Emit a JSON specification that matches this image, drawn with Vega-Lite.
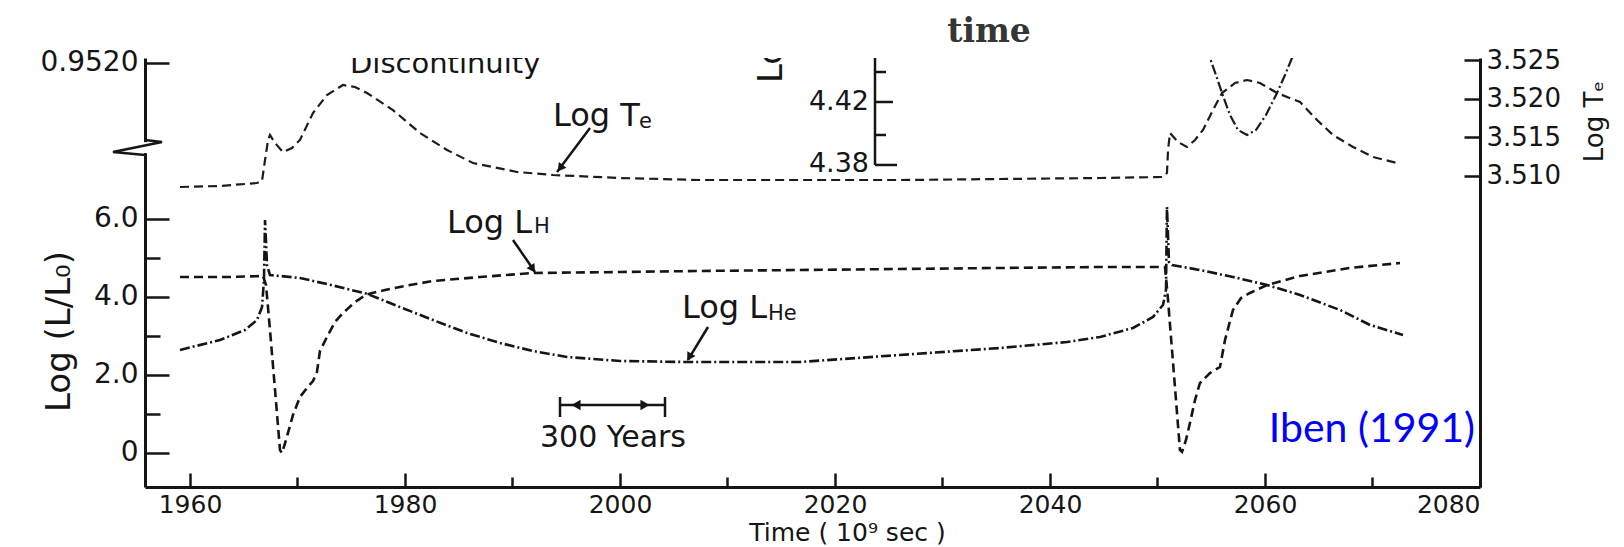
{
  "$schema": "https://vega.github.io/schema/vega-lite/v6.json",
  "autosize": "none",
  "width": 1335,
  "height": 429,
  "padding": {"left": 145, "top": 58, "right": 144, "bottom": 60},
  "background": "white",
  "config": {"view": {"stroke": null}, "font": "DejaVu Sans"},
  "datasets": {
    "lum": [
      {"series": "LH", "t": 1959.07, "L": 4.513},
      {"series": "LH", "t": 1963.72, "L": 4.513},
      {"series": "LH", "t": 1966.79, "L": 4.538},
      {"series": "LH", "t": 1967.07, "L": 4.308},
      {"series": "LH", "t": 1967.44, "L": 3.154},
      {"series": "LH", "t": 1967.91, "L": 1.615},
      {"series": "LH", "t": 1968.37, "L": 0.077},
      {"series": "LH", "t": 1968.56, "L": 0.0},
      {"series": "LH", "t": 1968.93, "L": 0.333},
      {"series": "LH", "t": 1969.58, "L": 0.974},
      {"series": "LH", "t": 1970.23, "L": 1.436},
      {"series": "LH", "t": 1970.88, "L": 1.667},
      {"series": "LH", "t": 1971.44, "L": 1.846},
      {"series": "LH", "t": 1971.81, "L": 2.077},
      {"series": "LH", "t": 1972.09, "L": 2.615},
      {"series": "LH", "t": 1972.74, "L": 2.974},
      {"series": "LH", "t": 1973.49, "L": 3.359},
      {"series": "LH", "t": 1974.23, "L": 3.59},
      {"series": "LH", "t": 1975.35, "L": 3.872},
      {"series": "LH", "t": 1976.47, "L": 4.07},
      {"series": "LH", "t": 1978.14, "L": 4.179},
      {"series": "LH", "t": 1980.47, "L": 4.308},
      {"series": "LH", "t": 1982.6, "L": 4.41},
      {"series": "LH", "t": 1986.98, "L": 4.513},
      {"series": "LH", "t": 1991.91, "L": 4.615},
      {"series": "LH", "t": 2000.0, "L": 4.641},
      {"series": "LH", "t": 2007.44, "L": 4.667},
      {"series": "LH", "t": 2016.74, "L": 4.692},
      {"series": "LH", "t": 2026.05, "L": 4.718},
      {"series": "LH", "t": 2035.35, "L": 4.744},
      {"series": "LH", "t": 2044.65, "L": 4.769},
      {"series": "LH", "t": 2050.7, "L": 4.769},
      {"series": "LH", "t": 2050.98, "L": 3.923},
      {"series": "LH", "t": 2051.35, "L": 2.641},
      {"series": "LH", "t": 2051.72, "L": 1.359},
      {"series": "LH", "t": 2052.09, "L": 0.077},
      {"series": "LH", "t": 2052.28, "L": 0.026},
      {"series": "LH", "t": 2052.65, "L": 0.333},
      {"series": "LH", "t": 2053.02, "L": 0.769},
      {"series": "LH", "t": 2053.49, "L": 1.359},
      {"series": "LH", "t": 2053.95, "L": 1.795},
      {"series": "LH", "t": 2054.88, "L": 2.051},
      {"series": "LH", "t": 2055.81, "L": 2.205},
      {"series": "LH", "t": 2056.28, "L": 2.897},
      {"series": "LH", "t": 2057.02, "L": 3.667},
      {"series": "LH", "t": 2057.77, "L": 3.974},
      {"series": "LH", "t": 2058.6, "L": 4.103},
      {"series": "LH", "t": 2060.19, "L": 4.308},
      {"series": "LH", "t": 2063.26, "L": 4.538},
      {"series": "LH", "t": 2067.91, "L": 4.744},
      {"series": "LH", "t": 2072.56, "L": 4.872},
      {"series": "LHe", "t": 1959.07, "L": 2.641},
      {"series": "LHe", "t": 1962.79, "L": 2.897},
      {"series": "LHe", "t": 1965.12, "L": 3.154},
      {"series": "LHe", "t": 1966.23, "L": 3.41},
      {"series": "LHe", "t": 1966.7, "L": 3.744},
      {"series": "LHe", "t": 1966.88, "L": 4.436},
      {"series": "LHe", "t": 1966.98, "L": 5.974},
      {"series": "LHe", "t": 1967.16, "L": 4.821},
      {"series": "LHe", "t": 1967.44, "L": 4.564},
      {"series": "LHe", "t": 1970.23, "L": 4.487},
      {"series": "LHe", "t": 1973.12, "L": 4.308},
      {"series": "LHe", "t": 1976.47, "L": 4.08},
      {"series": "LHe", "t": 1979.53, "L": 3.744},
      {"series": "LHe", "t": 1982.6, "L": 3.41},
      {"series": "LHe", "t": 1985.77, "L": 3.077},
      {"series": "LHe", "t": 1988.84, "L": 2.821},
      {"series": "LHe", "t": 1991.91, "L": 2.615},
      {"series": "LHe", "t": 1995.07, "L": 2.462},
      {"series": "LHe", "t": 2000.0, "L": 2.359},
      {"series": "LHe", "t": 2006.23, "L": 2.333},
      {"series": "LHe", "t": 2016.74, "L": 2.333},
      {"series": "LHe", "t": 2026.05, "L": 2.513},
      {"series": "LHe", "t": 2035.35, "L": 2.692},
      {"series": "LHe", "t": 2041.58, "L": 2.846},
      {"series": "LHe", "t": 2044.65, "L": 2.974},
      {"series": "LHe", "t": 2047.72, "L": 3.205},
      {"series": "LHe", "t": 2049.58, "L": 3.487},
      {"series": "LHe", "t": 2050.51, "L": 3.795},
      {"series": "LHe", "t": 2050.79, "L": 4.179},
      {"series": "LHe", "t": 2050.88, "L": 6.308},
      {"series": "LHe", "t": 2051.07, "L": 4.897},
      {"series": "LHe", "t": 2051.35, "L": 4.821},
      {"series": "LHe", "t": 2053.95, "L": 4.692},
      {"series": "LHe", "t": 2057.02, "L": 4.513},
      {"series": "LHe", "t": 2060.19, "L": 4.308},
      {"series": "LHe", "t": 2063.26, "L": 4.051},
      {"series": "LHe", "t": 2066.98, "L": 3.667},
      {"series": "LHe", "t": 2069.77, "L": 3.282},
      {"series": "LHe", "t": 2072.84, "L": 3.026}
    ],
    "tcurves": [
      {"series": "Te", "t": 1959.07, "Te": 3.50858},
      {"series": "Te", "t": 1962.79, "Te": 3.50871},
      {"series": "Te", "t": 1966.23, "Te": 3.50909},
      {"series": "Te", "t": 1966.7, "Te": 3.50935},
      {"series": "Te", "t": 1966.98, "Te": 3.51207},
      {"series": "Te", "t": 1967.26, "Te": 3.51466},
      {"series": "Te", "t": 1967.44, "Te": 3.5153},
      {"series": "Te", "t": 1967.91, "Te": 3.51427},
      {"series": "Te", "t": 1968.65, "Te": 3.5131},
      {"series": "Te", "t": 1969.49, "Te": 3.51362},
      {"series": "Te", "t": 1970.23, "Te": 3.51466},
      {"series": "Te", "t": 1971.44, "Te": 3.51815},
      {"series": "Te", "t": 1972.74, "Te": 3.52047},
      {"series": "Te", "t": 1974.23, "Te": 3.52177},
      {"series": "Te", "t": 1975.35, "Te": 3.52151},
      {"series": "Te", "t": 1976.47, "Te": 3.52073},
      {"series": "Te", "t": 1978.88, "Te": 3.51853},
      {"series": "Te", "t": 1981.4, "Te": 3.51556},
      {"series": "Te", "t": 1983.91, "Te": 3.51336},
      {"series": "Te", "t": 1986.33, "Te": 3.51168},
      {"series": "Te", "t": 1990.42, "Te": 3.51052},
      {"series": "Te", "t": 1993.77, "Te": 3.51013},
      {"series": "Te", "t": 2000.0, "Te": 3.50974},
      {"series": "Te", "t": 2007.44, "Te": 3.50948},
      {"series": "Te", "t": 2016.74, "Te": 3.50948},
      {"series": "Te", "t": 2026.05, "Te": 3.50948},
      {"series": "Te", "t": 2035.35, "Te": 3.50961},
      {"series": "Te", "t": 2044.65, "Te": 3.50974},
      {"series": "Te", "t": 2050.51, "Te": 3.50987},
      {"series": "Te", "t": 2050.88, "Te": 3.51039},
      {"series": "Te", "t": 2050.98, "Te": 3.51336},
      {"series": "Te", "t": 2051.16, "Te": 3.51556},
      {"series": "Te", "t": 2051.91, "Te": 3.5144},
      {"series": "Te", "t": 2052.74, "Te": 3.51375},
      {"series": "Te", "t": 2053.49, "Te": 3.51466},
      {"series": "Te", "t": 2054.23, "Te": 3.51595},
      {"series": "Te", "t": 2055.07, "Te": 3.51828},
      {"series": "Te", "t": 2056.0, "Te": 3.52073},
      {"series": "Te", "t": 2057.21, "Te": 3.52203},
      {"series": "Te", "t": 2058.33, "Te": 3.52241},
      {"series": "Te", "t": 2059.53, "Te": 3.52203},
      {"series": "Te", "t": 2061.12, "Te": 3.52073},
      {"series": "Te", "t": 2063.26, "Te": 3.51957},
      {"series": "Te", "t": 2064.84, "Te": 3.51724},
      {"series": "Te", "t": 2066.33, "Te": 3.5153},
      {"series": "Te", "t": 2068.19, "Te": 3.51375},
      {"series": "Te", "t": 2070.05, "Te": 3.51246},
      {"series": "Te", "t": 2072.28, "Te": 3.51168},
      {"series": "Te2", "t": 2054.51, "Te": 3.52655},
      {"series": "Te2", "t": 2054.88, "Te": 3.52526},
      {"series": "Te2", "t": 2055.44, "Te": 3.52306},
      {"series": "Te2", "t": 2056.0, "Te": 3.52073},
      {"series": "Te2", "t": 2056.74, "Te": 3.51789},
      {"series": "Te2", "t": 2057.49, "Te": 3.51595},
      {"series": "Te2", "t": 2058.33, "Te": 3.5153},
      {"series": "Te2", "t": 2059.16, "Te": 3.51595},
      {"series": "Te2", "t": 2060.09, "Te": 3.51789},
      {"series": "Te2", "t": 2061.12, "Te": 3.52073},
      {"series": "Te2", "t": 2061.86, "Te": 3.52306},
      {"series": "Te2", "t": 2062.51, "Te": 3.52526},
      {"series": "Te2", "t": 2062.88, "Te": 3.52655}
    ],
    "segments": [
      {"kind": "arrow", "t": 1997.209, "L": 8.333, "t2": 1994.14, "L2": 7.205},
      {"kind": "arrow", "t": 1990.047, "L": 5.462, "t2": 1992.093, "L2": 4.641},
      {"kind": "arrow", "t": 2008.186, "L": 3.231, "t2": 2006.326, "L2": 2.385},
      {"kind": "bar", "t": 1994.419, "L": 1.231, "t2": 2004.186, "L2": 1.231},
      {"kind": "bar", "t": 1994.419, "L": 1.436, "t2": 1994.419, "L2": 0.923},
      {"kind": "bar", "t": 2004.186, "L": 1.436, "t2": 2004.186, "L2": 0.923},
      {"kind": "inset", "t": 2023.721, "L": 10.128, "t2": 2023.721, "L2": 7.385},
      {"kind": "inset", "t": 2023.721, "L": 9.769, "t2": 2024.744, "L2": 9.769},
      {"kind": "inset", "t": 2023.721, "L": 9.0, "t2": 2025.395, "L2": 9.0},
      {"kind": "inset", "t": 2023.721, "L": 8.154, "t2": 2024.744, "L2": 8.154},
      {"kind": "inset", "t": 2023.721, "L": 7.385, "t2": 2025.767, "L2": 7.385},
      {"kind": "cover", "t": 1955.814, "L": 7.97, "t2": 1955.814, "L2": 7.69}
    ],
    "zigzag": [
      {"i": 1, "t": 1955.814, "L": 8.026},
      {"i": 2, "t": 1957.395, "L": 7.974},
      {"i": 3, "t": 1952.837, "L": 7.718},
      {"i": 4, "t": 1955.814, "L": 7.641}
    ],
    "heads": [
      {"kind": "te", "t": 1994.512, "L": 7.333},
      {"kind": "lh", "t": 1991.814, "L": 4.744},
      {"kind": "lhe", "t": 2006.512, "L": 2.487},
      {"kind": "barL", "t": 1995.907, "L": 1.231},
      {"kind": "barR", "t": 2002.326, "L": 1.231}
    ],
    "labels": [
      {"kind": "main", "text": "Log T", "t": 1993.767, "L": 8.385},
      {"kind": "main", "text": "Log L", "t": 1983.907, "L": 5.641},
      {"kind": "main", "text": "Log L", "t": 2005.767, "L": 3.462},
      {"kind": "sub", "text": "e", "t": 2001.77, "L": 8.333},
      {"kind": "sub", "text": "H", "t": 1992.0, "L": 5.641},
      {"kind": "sub", "text": "He", "t": 2013.77, "L": 3.41},
      {"kind": "years", "text": "300 Years", "t": 1999.349, "L": 0.154},
      {"kind": "disc", "text": "Discontinuity", "t": 1974.884, "L": 9.744},
      {"kind": "time", "text": "time", "t": 2034.326, "L": 10.538},
      {"kind": "credit", "text": "Iben (1991)", "t": 2079.535, "L": 0.282},
      {"kind": "inset", "text": "4.42", "t": 2023.163, "L": 9.0},
      {"kind": "inset", "text": "4.38", "t": 2023.163, "L": 7.41},
      {"kind": "insetTitle", "text": "Log L", "t": 2015.07, "L": 9.487}
    ]
  },
  "layer": [
    {
      "layer": [
        {
          "data": {"name": "lum"},
          "mark": {"type": "line", "strokeWidth": 2.6, "color": "#151515"},
          "encoding": {
            "x": {"field": "t", "type": "quantitative",
              "scale": {"domain": [1955.814, 2080], "nice": false, "zero": false},
              "axis": {
                "values": [1960, 1970, 1980, 1990, 2000, 2010, 2020, 2030, 2040, 2050, 2060, 2070, 2080],
                "format": "d",
                "labelExpr": "datum.value % 20 == 0 ? datum.label : ''",
                "tickSize": {"condition": {"test": "datum.value % 20 != 0", "value": -10}, "value": -14},
                "tickWidth": 2.5, "tickColor": "#151515",
                "labelPadding": 19, "labelFont": "DejaVu Sans", "labelFontSize": 25, "labelColor": "#151515",
                "domainColor": "#151515", "domainWidth": 3, "grid": false,
                "title": "Time   ( 10⁹ sec  )", "titleFont": "DejaVu Sans", "titleFontSize": 25, "titleFontWeight": "normal",
                "titleColor": "#151515", "titleX": 702, "titleY": 53, "titleAlign": "center", "titleBaseline": "alphabetic"
              }},
            "y": {"field": "L", "type": "quantitative",
              "scale": {"domain": [-0.872, 10.128], "nice": false, "zero": false},
              "axis": {
                "orient": "left",
                "values": [0, 1, 2, 3, 4, 5, 6, 10],
                "labelExpr": "datum.value == 10 ? '0.9520' : (datum.value == 0 ? '0' : (datum.value % 2 == 0 ? format(datum.value, '.1f') : ''))",
                "tickSize": {"condition": {"test": "datum.value % 2 == 1", "value": -15}, "value": -24},
                "tickWidth": 2.5, "tickColor": "#151515",
                "labelPadding": 31, "labelFont": "DejaVu Sans", "labelFontSize": 28, "labelColor": "#151515",
                "domainColor": "#151515", "domainWidth": 3, "grid": false,
                "title": "Log (L/L₀)", "titleFont": "DejaVu Sans", "titleFontSize": 34, "titleFontWeight": "normal",
                "titleColor": "#151515", "titleAngle": 270, "titleX": -76, "titleY": 273, "titleAlign": "center", "titleBaseline": "alphabetic"
              }},
            "strokeDash": {"field": "series", "type": "nominal",
              "scale": {"domain": ["LH", "LHe"], "range": [[9, 5], [10, 3, 2, 3]]}, "legend": null}
          }
        },
        {
          "data": {"name": "segments"},
          "transform": [{"filter": "datum.kind != 'cover'"}],
          "mark": {"type": "rule", "strokeWidth": 2.5, "color": "#151515"},
          "encoding": {
            "x": {"field": "t", "type": "quantitative", "scale": {"domain": [1955.814, 2080], "nice": false, "zero": false}},
            "x2": {"field": "t2"},
            "y": {"field": "L", "type": "quantitative", "scale": {"domain": [-0.872, 10.128], "nice": false, "zero": false}},
            "y2": {"field": "L2"}
          }
        },
        {
          "data": {"name": "segments"},
          "transform": [{"filter": "datum.kind == 'cover'"}],
          "mark": {"type": "rule", "strokeWidth": 7, "color": "white"},
          "encoding": {
            "x": {"field": "t", "type": "quantitative", "scale": {"domain": [1955.814, 2080], "nice": false, "zero": false}},
            "x2": {"field": "t2"},
            "y": {"field": "L", "type": "quantitative", "scale": {"domain": [-0.872, 10.128], "nice": false, "zero": false}},
            "y2": {"field": "L2"}
          }
        },
        {
          "data": {"name": "zigzag"},
          "mark": {"type": "line", "strokeWidth": 2.5, "color": "#151515"},
          "encoding": {
            "x": {"field": "t", "type": "quantitative", "scale": {"domain": [1955.814, 2080], "nice": false, "zero": false}},
            "y": {"field": "L", "type": "quantitative", "scale": {"domain": [-0.872, 10.128], "nice": false, "zero": false}},
            "order": {"field": "i", "type": "quantitative"}
          }
        },
        {
          "data": {"name": "heads"},
          "transform": [{"filter": "datum.kind == 'te'"}],
          "mark": {"type": "point", "shape": "triangle", "filled": true, "size": 90, "angle": 217, "color": "#151515", "opacity": 1},
          "encoding": {
            "x": {"field": "t", "type": "quantitative", "scale": {"domain": [1955.814, 2080], "nice": false, "zero": false}},
            "y": {"field": "L", "type": "quantitative", "scale": {"domain": [-0.872, 10.128], "nice": false, "zero": false}}
          }
        },
        {
          "data": {"name": "heads"},
          "transform": [{"filter": "datum.kind == 'lh'"}],
          "mark": {"type": "point", "shape": "triangle", "filled": true, "size": 90, "angle": 146, "color": "#151515", "opacity": 1},
          "encoding": {
            "x": {"field": "t", "type": "quantitative", "scale": {"domain": [1955.814, 2080], "nice": false, "zero": false}},
            "y": {"field": "L", "type": "quantitative", "scale": {"domain": [-0.872, 10.128], "nice": false, "zero": false}}
          }
        },
        {
          "data": {"name": "heads"},
          "transform": [{"filter": "datum.kind == 'lhe'"}],
          "mark": {"type": "point", "shape": "triangle", "filled": true, "size": 90, "angle": 211, "color": "#151515", "opacity": 1},
          "encoding": {
            "x": {"field": "t", "type": "quantitative", "scale": {"domain": [1955.814, 2080], "nice": false, "zero": false}},
            "y": {"field": "L", "type": "quantitative", "scale": {"domain": [-0.872, 10.128], "nice": false, "zero": false}}
          }
        },
        {
          "data": {"name": "heads"},
          "transform": [{"filter": "datum.kind == 'barL'"}],
          "mark": {"type": "point", "shape": "triangle-left", "filled": true, "size": 110, "color": "#151515", "opacity": 1},
          "encoding": {
            "x": {"field": "t", "type": "quantitative", "scale": {"domain": [1955.814, 2080], "nice": false, "zero": false}},
            "y": {"field": "L", "type": "quantitative", "scale": {"domain": [-0.872, 10.128], "nice": false, "zero": false}}
          }
        },
        {
          "data": {"name": "heads"},
          "transform": [{"filter": "datum.kind == 'barR'"}],
          "mark": {"type": "point", "shape": "triangle-right", "filled": true, "size": 110, "color": "#151515", "opacity": 1},
          "encoding": {
            "x": {"field": "t", "type": "quantitative", "scale": {"domain": [1955.814, 2080], "nice": false, "zero": false}},
            "y": {"field": "L", "type": "quantitative", "scale": {"domain": [-0.872, 10.128], "nice": false, "zero": false}}
          }
        },
        {
          "data": {"name": "labels"},
          "transform": [{"filter": "datum.kind == 'main'"}],
          "mark": {"type": "text", "font": "DejaVu Sans", "fontSize": 32, "align": "left", "baseline": "alphabetic", "color": "#151515"},
          "encoding": {
            "x": {"field": "t", "type": "quantitative", "scale": {"domain": [1955.814, 2080], "nice": false, "zero": false}},
            "y": {"field": "L", "type": "quantitative", "scale": {"domain": [-0.872, 10.128], "nice": false, "zero": false}},
            "text": {"field": "text"}
          }
        },
        {
          "data": {"name": "labels"},
          "transform": [{"filter": "datum.kind == 'sub'"}],
          "mark": {"type": "text", "font": "DejaVu Sans", "fontSize": 21, "align": "left", "baseline": "alphabetic", "color": "#151515"},
          "encoding": {
            "x": {"field": "t", "type": "quantitative", "scale": {"domain": [1955.814, 2080], "nice": false, "zero": false}},
            "y": {"field": "L", "type": "quantitative", "scale": {"domain": [-0.872, 10.128], "nice": false, "zero": false}},
            "text": {"field": "text"}
          }
        },
        {
          "data": {"name": "labels"},
          "transform": [{"filter": "datum.kind == 'years'"}],
          "mark": {"type": "text", "font": "DejaVu Sans", "fontSize": 30, "align": "center", "baseline": "alphabetic", "color": "#151515"},
          "encoding": {
            "x": {"field": "t", "type": "quantitative", "scale": {"domain": [1955.814, 2080], "nice": false, "zero": false}},
            "y": {"field": "L", "type": "quantitative", "scale": {"domain": [-0.872, 10.128], "nice": false, "zero": false}},
            "text": {"field": "text"}
          }
        },
        {
          "data": {"name": "labels"},
          "transform": [{"filter": "datum.kind == 'disc'"}],
          "mark": {"type": "text", "font": "DejaVu Sans", "fontSize": 29, "align": "left", "baseline": "alphabetic", "color": "#151515", "clip": true},
          "encoding": {
            "x": {"field": "t", "type": "quantitative", "scale": {"domain": [1955.814, 2080], "nice": false, "zero": false}},
            "y": {"field": "L", "type": "quantitative", "scale": {"domain": [-0.872, 10.128], "nice": false, "zero": false}},
            "text": {"field": "text"}
          }
        },
        {
          "data": {"name": "labels"},
          "transform": [{"filter": "datum.kind == 'time'"}],
          "mark": {"type": "text", "font": "DejaVu Serif", "fontWeight": "bold", "fontSize": 33, "align": "center", "baseline": "alphabetic", "color": "#363636"},
          "encoding": {
            "x": {"field": "t", "type": "quantitative", "scale": {"domain": [1955.814, 2080], "nice": false, "zero": false}},
            "y": {"field": "L", "type": "quantitative", "scale": {"domain": [-0.872, 10.128], "nice": false, "zero": false}},
            "text": {"field": "text"}
          }
        },
        {
          "data": {"name": "labels"},
          "transform": [{"filter": "datum.kind == 'credit'"}],
          "mark": {"type": "text", "font": "Lato", "fontSize": 41, "align": "right", "baseline": "alphabetic", "color": "#0000ff"},
          "encoding": {
            "x": {"field": "t", "type": "quantitative", "scale": {"domain": [1955.814, 2080], "nice": false, "zero": false}},
            "y": {"field": "L", "type": "quantitative", "scale": {"domain": [-0.872, 10.128], "nice": false, "zero": false}},
            "text": {"field": "text"}
          }
        },
        {
          "data": {"name": "labels"},
          "transform": [{"filter": "datum.kind == 'inset'"}],
          "mark": {"type": "text", "font": "DejaVu Sans", "fontSize": 27, "align": "right", "baseline": "middle", "color": "#151515"},
          "encoding": {
            "x": {"field": "t", "type": "quantitative", "scale": {"domain": [1955.814, 2080], "nice": false, "zero": false}},
            "y": {"field": "L", "type": "quantitative", "scale": {"domain": [-0.872, 10.128], "nice": false, "zero": false}},
            "text": {"field": "text"}
          }
        },
        {
          "data": {"name": "labels"},
          "transform": [{"filter": "datum.kind == 'insetTitle'"}],
          "mark": {"type": "text", "font": "DejaVu Sans", "fontSize": 34, "align": "left", "baseline": "alphabetic", "angle": 270, "color": "#151515", "clip": true},
          "encoding": {
            "x": {"field": "t", "type": "quantitative", "scale": {"domain": [1955.814, 2080], "nice": false, "zero": false}},
            "y": {"field": "L", "type": "quantitative", "scale": {"domain": [-0.872, 10.128], "nice": false, "zero": false}},
            "text": {"field": "text"}
          }
        }
      ]
    },
    {
      "layer": [
        {
          "data": {"name": "tcurves"},
          "mark": {"type": "line", "strokeWidth": 2.2, "color": "#1c1c1c", "clip": true},
          "encoding": {
            "x": {"field": "t", "type": "quantitative", "scale": {"domain": [1955.814, 2080], "nice": false, "zero": false}},
            "y": {"field": "Te", "type": "quantitative",
              "scale": {"domain": [3.46978, 3.52526], "nice": false, "zero": false},
              "axis": {
                "orient": "right",
                "values": [3.51, 3.515, 3.52, 3.525],
                "format": ".3f",
                "tickSize": -16, "tickWidth": 2.5, "tickColor": "#151515",
                "labelPadding": 22, "labelFont": "DejaVu Sans", "labelFontSize": 26, "labelColor": "#151515",
                "domainColor": "#151515", "domainWidth": 3, "grid": false,
                "title": "Log Tₑ", "titleFont": "DejaVu Sans", "titleFontSize": 26, "titleFontWeight": "normal",
                "titleColor": "#151515", "titleAngle": 270, "titleX": 122, "titleY": 63, "titleAlign": "center", "titleBaseline": "alphabetic"
              }},
            "strokeDash": {"field": "series", "type": "nominal",
              "scale": {"domain": ["Te", "Te2"], "range": [[5, 2, 1.5, 2], [2, 2.5]]}, "legend": null}
          }
        }
      ]
    }
  ],
  "resolve": {"scale": {"y": "independent"}}
}
